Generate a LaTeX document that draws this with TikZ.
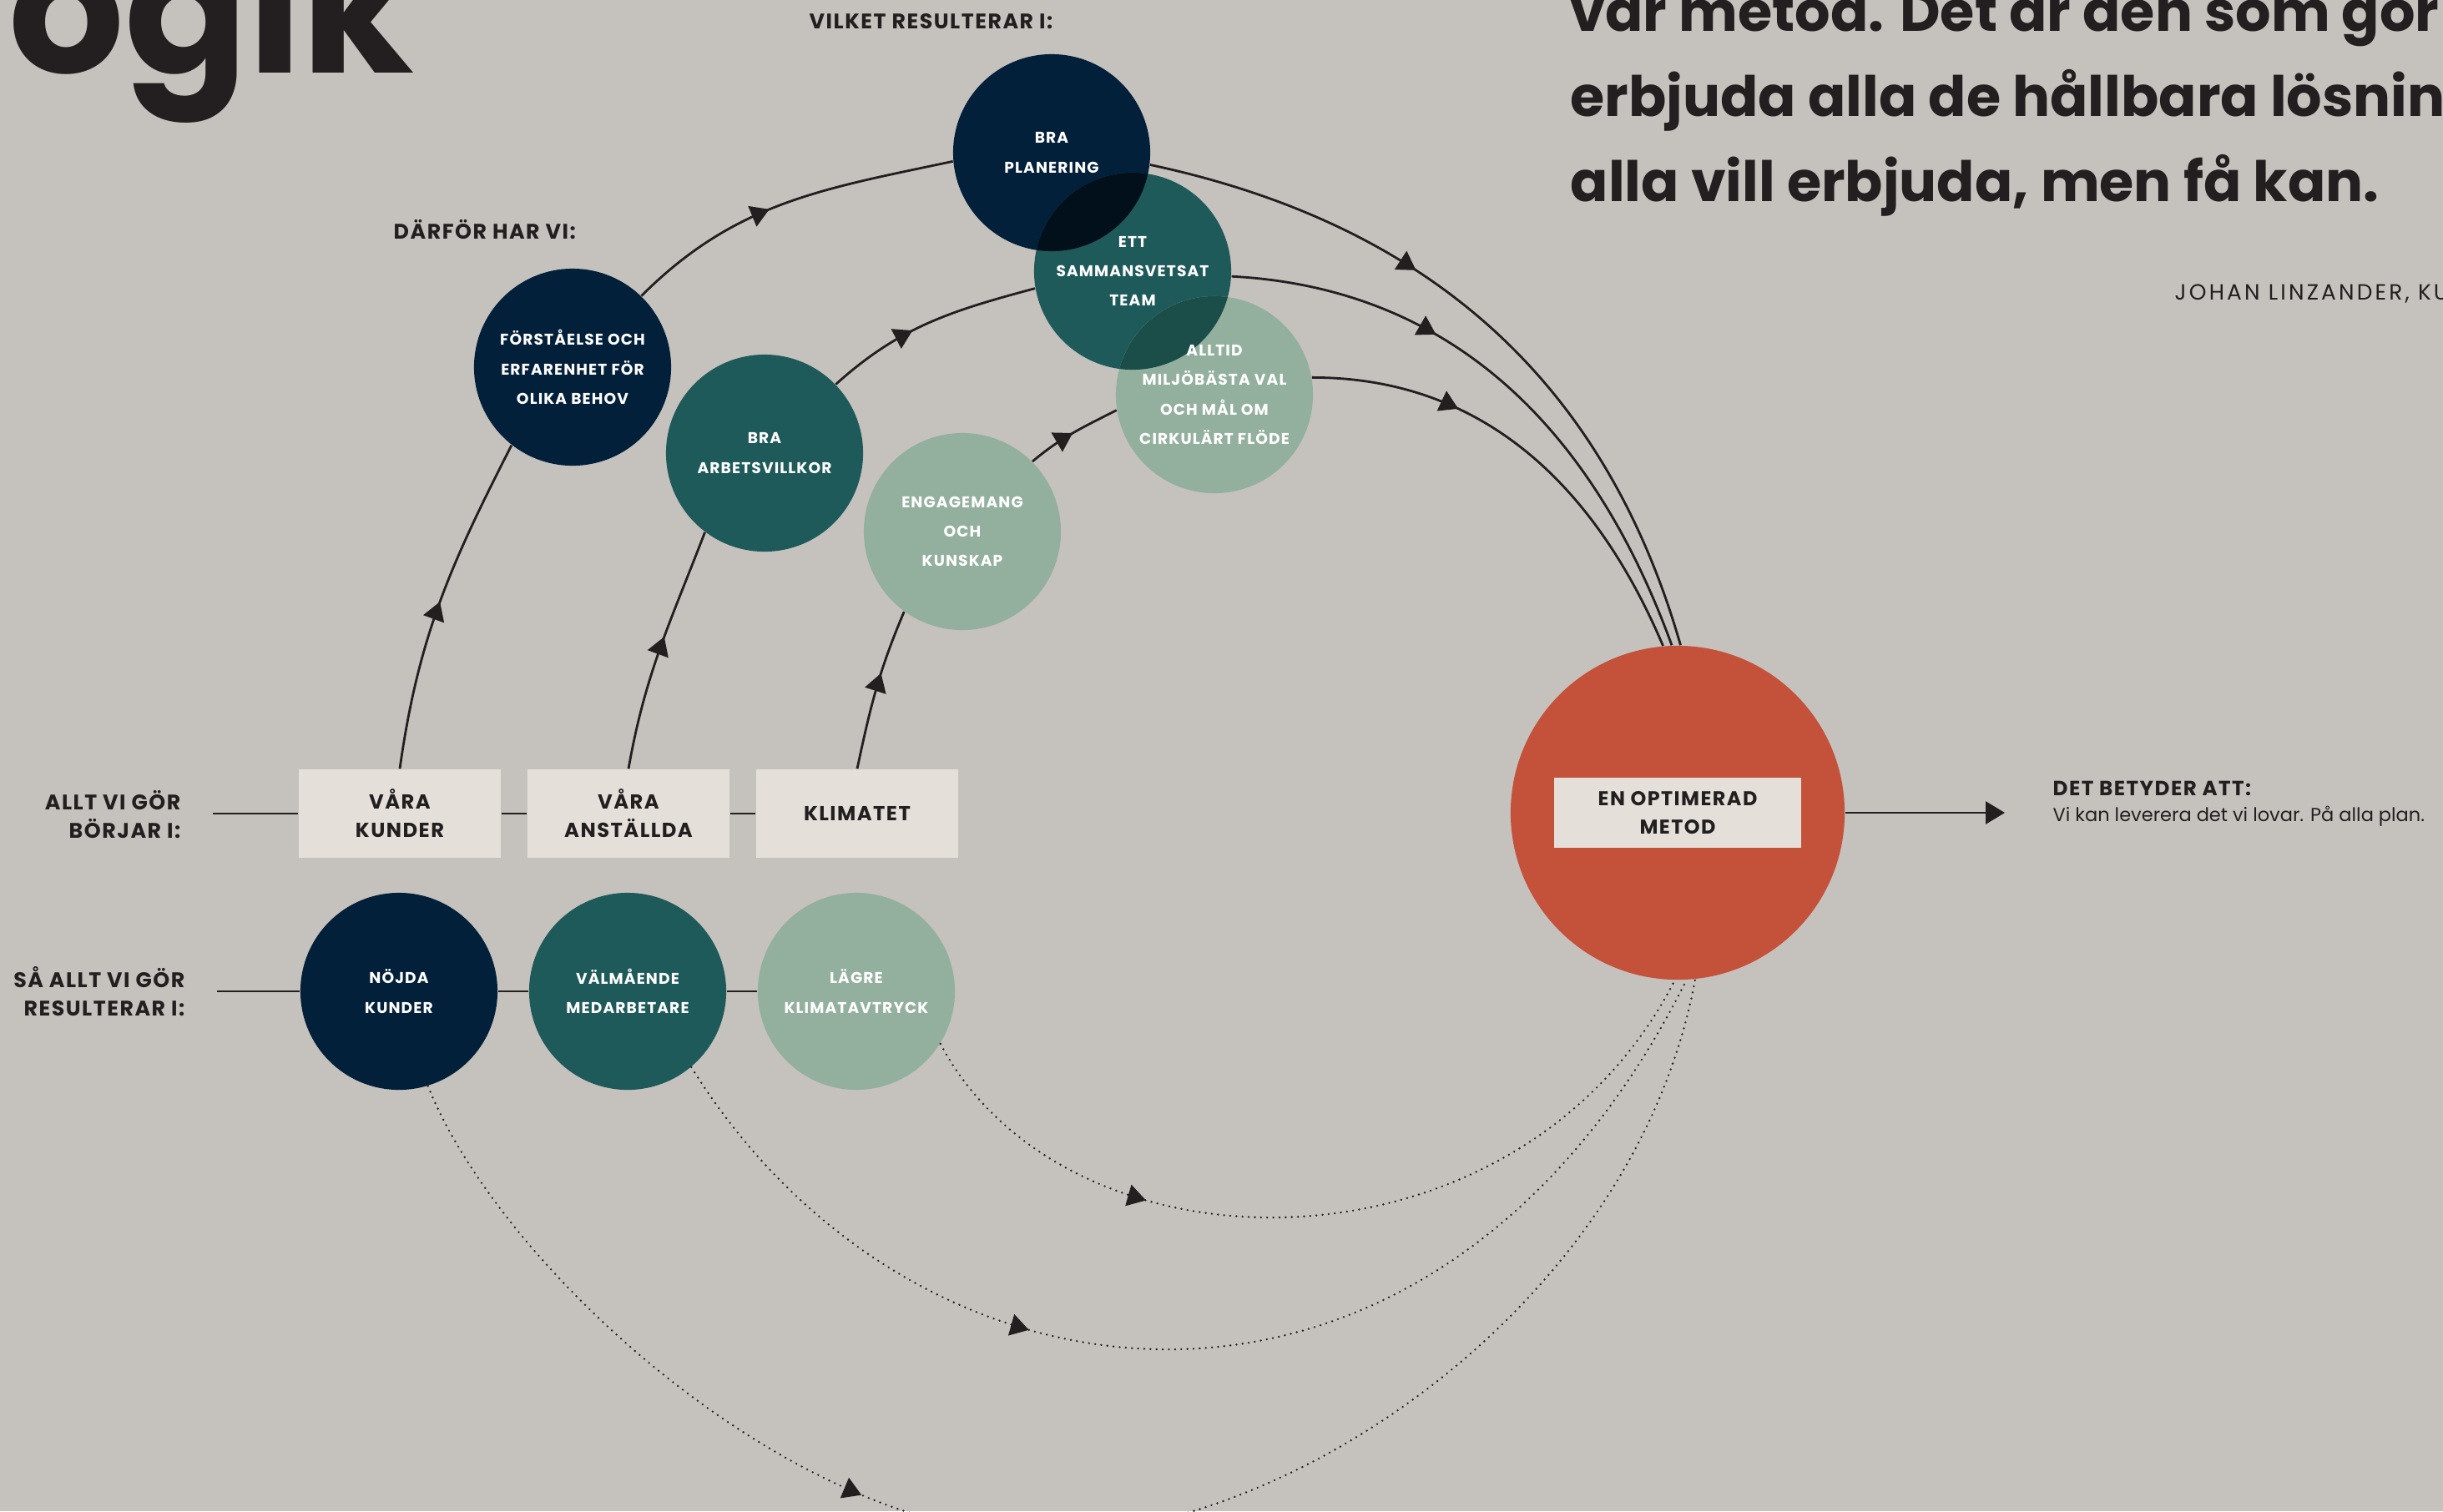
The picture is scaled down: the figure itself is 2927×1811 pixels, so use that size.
\documentclass[tikz,border=0pt]{standalone}
\usepackage{fontspec}
\setmainfont{Poppins}
\newfontfamily\spaced[LetterSpace=6]{Poppins}
\newfontfamily\widespaced[LetterSpace=12]{Poppins}
\usetikzlibrary{arrows.meta, decorations.markings}

\definecolor{concrete}{HTML}{C5C1BD}
\definecolor{navy}{HTML}{02203A}
\definecolor{pine}{HTML}{1F5A5A}
\definecolor{sage}{HTML}{93B09F}
\definecolor{rust}{HTML}{C4523B}
\definecolor{paper}{HTML}{E4E0D9}
\definecolor{ink}{HTML}{231F20}
\definecolor{deepnavy}{HTML}{02101C}
\definecolor{deeppine}{HTML}{1B4E49}

\tikzset{
  bubble/.style={circle, minimum size=2.36cm, inner sep=0pt, text=white, align=center,
    font=\spaced\bfseries\fontsize{5.3}{10}\selectfont},
  navybubble/.style={bubble, fill=navy},
  pinebubble/.style={bubble, fill=pine},
  sagebubble/.style={bubble, fill=sage},
  startbox/.style={rectangle, fill=paper, minimum width=2.42cm, minimum height=1.06cm, inner sep=0pt,
    align=center, text=ink, font=\spaced\bfseries\fontsize{6.9}{9.7}\selectfont},
  sidelabel/.style={inner sep=0pt, align=right, text=ink, font=\spaced\bfseries\fontsize{7.2}{9.7}\selectfont},
  heading/.style={inner sep=0pt, text=ink, font=\spaced\bfseries\fontsize{7.2}{9.7}\selectfont},
  flowline/.style={draw=ink, line width=0.8pt},
  loopline/.style={draw=ink, line width=0.75pt, line cap=round, dash pattern=on 0pt off 2.1pt},
  midarrow/.style={postaction=decorate, decoration={markings,
    mark=at position #1 with {\arrow[ink]{Triangle[length=0.22cm,width=0.26cm]}}}},
}

\begin{document}
\begin{tikzpicture}[x=0.01cm, y=-0.01cm]
\useasboundingbox (0,0) rectangle (2927,1811);
\clip (0,0) rectangle (2927,1811);
\fill[concrete] (0,0) rectangle (2927,1811);

% titles and quote
\node[anchor=base east, inner sep=0pt, text=ink, font=\bfseries\fontsize{62}{62}\selectfont] (rubrik) at (497,87) {logik};
\node[anchor=base west, inner sep=0pt, align=left, text=ink, font=\bfseries\fontsize{19}{29}\selectfont] (citat) at (1881,241)
  {vår metod. Det är den som gör\\erbjuda alla de hållbara lösningar\\alla vill erbjuda, men få kan.};
\node[anchor=west, inner sep=0pt, text=ink, font=\widespaced\fontsize{7.5}{9}\selectfont] (namn) at (2605,352) {JOHAN LINZANDER, KU};

\node[heading, anchor=west] (vilket) at (969,26) {VILKET RESULTERAR I:};
\node[heading, anchor=west] (darfor) at (471,275) {DÄRFÖR HAR VI:};

% circles
\node[navybubble] (forstaelse) at (686,440) {FÖRSTÅELSE OCH\\ERFARENHET FÖR\\OLIKA BEHOV};
\node[pinebubble] (arbete) at (916,543) {BRA\\ARBETSVILLKOR};
\node[sagebubble] (engagemang) at (1153,637) {ENGAGEMANG\\OCH\\KUNSKAP};
\node[navybubble] (planering) at (1260,183) {BRA\\PLANERING};
\node[pinebubble, path picture={\fill[deepnavy] (planering.center) circle[radius=1.18cm];}] (team) at (1357,325)
  {ETT\\SAMMANSVETSAT\\TEAM};
\node[sagebubble, path picture={\fill[deeppine] (team.center) circle[radius=1.18cm];}] (alltid) at (1455,473)
  {ALLTID\\MILJÖBÄSTA VAL\\OCH MÅL OM\\CIRKULÄRT FLÖDE};

% start row
\node[startbox] (kunder) at (479,975) {VÅRA\\KUNDER};
\node[startbox] (anstallda) at (753,975) {VÅRA\\ANSTÄLLDA};
\node[startbox] (klimatet) at (1027,975) {KLIMATET};
\node[sidelabel, anchor=east] (borjar) at (217,976) {ALLT VI GÖR\\BÖRJAR I:};
\coordinate (rowA) at (255,975);
\draw[flowline] (rowA) -- (kunder) -- (anstallda) -- (klimatet);

% result row
\node[navybubble] (nojda) at (478,1188) {NÖJDA\\KUNDER};
\node[pinebubble] (valmaende) at (752,1188) {VÄLMÅENDE\\MEDARBETARE};
\node[sagebubble] (lagre) at (1026,1188) {LÄGRE\\KLIMATAVTRYCK};
\node[sidelabel, anchor=east] (resultat) at (222,1188) {SÅ ALLT VI GÖR\\RESULTERAR I:};
\coordinate (rowB) at (260,1188);
\draw[flowline] (rowB) -- (nojda) -- (valmaende) -- (lagre);

% method
\node[circle, fill=rust, minimum size=4cm, inner sep=0pt] (metod) at (2010,974) {};
\node[startbox, minimum width=2.95cm, minimum height=0.83cm, font=\spaced\bfseries\fontsize{6.8}{9.7}\selectfont] (metodbox) at (metod) {EN OPTIMERAD\\METOD};
\coordinate (utgang) at (2402,974);
\draw[flowline, -{Triangle[length=0.23cm,width=0.27cm]}] (metod) -- (utgang);
\node[heading, anchor=west, font=\spaced\bfseries\fontsize{7}{9}\selectfont] (betyder) at (2459,945) {DET BETYDER ATT:};
\node[anchor=west, inner sep=0pt, text=ink, font=\fontsize{6.4}{8}\selectfont] (lovar) at (2459,978) {Vi kan leverera det vi lovar. På alla plan.};

% solid arcs
\draw[flowline, midarrow=0.5] (kunder.north) to[out=82, in=243] (forstaelse.-128);
\draw[flowline, midarrow=0.45] (forstaelse.46) to[out=45, in=192] (planering.185);
\draw[flowline, midarrow=0.38] (planering.-7) to[out=-12, in=106] (metod.89);
\draw[flowline, midarrow=0.55] (anstallda.north) to[out=80, in=249] (arbete.-127);
\draw[flowline, midarrow=0.42] (arbete.44) to[out=42, in=195] (team.190);
\draw[flowline, midarrow=0.35] (team.-3) to[out=-3, in=110] (metod.92);
\draw[flowline, midarrow=0.6] (klimatet.north) to[out=78, in=247] (engagemang.-126);
\draw[flowline, midarrow=0.5] (engagemang.45) to[out=40, in=207] (alltid.189);
\draw[flowline, midarrow=0.32] (alltid.10) to[out=0, in=113] (metod.95);

% dotted loops
\coordinate (botten) at (1250,1840);
\draw[loopline, midarrow=0.3] (lagre.-32) .. controls (1280,1540) and (1820,1540) .. (metod.-91);
\draw[loopline, midarrow=0.35] (valmaende.-50) .. controls (1100,1717) and (1720,1777) .. (metod.-87);
\draw[loopline, midarrow=0.355] (nojda.-73) .. controls (600,1520) and (950,1840) .. (botten)
  .. controls (1550,1840) and (1960,1560) .. (metod.-84);
\end{tikzpicture}
\end{document}
